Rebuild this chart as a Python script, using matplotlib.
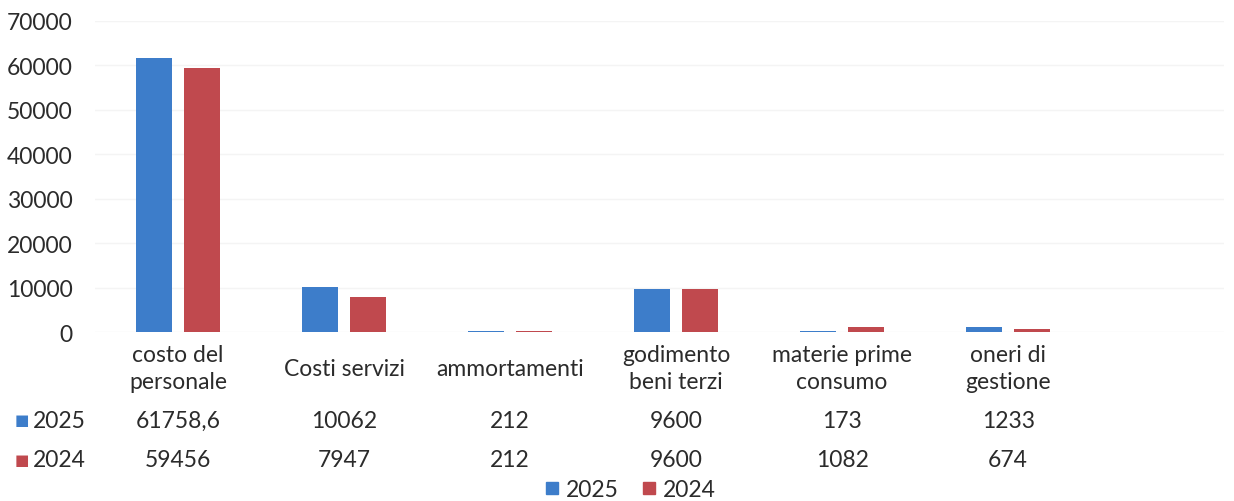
import matplotlib
matplotlib.use("Agg")
import matplotlib.pyplot as plt
import matplotlib.transforms as mtransforms
from matplotlib.lines import Line2D
import numpy as np

# data
categories = ["costo del\npersonale", "Costi servizi", "ammortamenti",
              "godimento\nbeni terzi", "materie prime\nconsumo", "oneri di\ngestione"]
val_2025 = [61758.6, 10062, 212, 9600, 173, 1233]
val_2024 = [59456, 7947, 212, 9600, 1082, 674]
labels_2025 = ["61758,6", "10062", "212", "9600", "173", "1233"]
labels_2024 = ["59456", "7947", "212", "9600", "1082", "674"]
yticks = [0, 10000, 20000, 30000, 40000, 50000, 60000, 70000]

blue = "#3D7DCA"
red = "#C0494E"
txt = "#2b2b2b"
fs = 16.5

plt.rcParams["font.family"] = ["Lato", "DejaVu Sans"]

fig = plt.figure(figsize=(12.34, 5.02), dpi=100)
W, H = 1234, 502
ax = fig.add_axes([95 / W, (H - 333) / H, 1129 / W, 311 / H])

x = np.arange(len(categories))
bw = 0.22
ax.bar(x - 0.145, val_2025, width=bw, color=blue, label="2025")
ax.bar(x + 0.145, val_2024, width=bw, color=red, label="2024")

ax.set_xlim(-0.5, 6.3)
ax.set_ylim(0, 70000)
ax.set_yticks(yticks)
ax.set_yticklabels([str(t) for t in yticks], fontsize=fs, color=txt)
ax.set_xticks(x)
ax.set_xticklabels(categories, fontsize=fs, color=txt, linespacing=1.35, va="center")
ax.tick_params(axis="x", length=0, pad=26)
ax.tick_params(axis="y", length=0, pad=16)
for s in ax.spines.values():
    s.set_visible(False)
ax.grid(axis="y", color="#f4f4f4", linewidth=1)
ax.set_axisbelow(True)

# data table rows
trans = mtransforms.blended_transform_factory(ax.transData, fig.transFigure)
for lab, yrow in [(labels_2025, 1 - 421 / H), (labels_2024, 1 - 461 / H)]:
    for xi, s in zip(x, lab):
        ax.text(xi, yrow, s, transform=trans, ha="center", va="center",
                fontsize=fs, color=txt)

for yr, col, yrow in [("2025", blue, 1 - 421 / H), ("2024", red, 1 - 461 / H)]:
    fig.text(22 / W, yrow, "\u25A0", color=col, fontsize=11, ha="center", va="center")
    fig.text(33 / W, yrow, yr, color=txt, fontsize=fs, ha="left", va="center")

handles = [Line2D([], [], marker="s", linestyle="none", color=blue, markersize=9),
           Line2D([], [], marker="s", linestyle="none", color=red, markersize=9)]
fig.legend(handles, ["2025", "2024"], loc="center", bbox_to_anchor=(628 / W, 1 - 491 / H),
           ncol=2, frameon=False, fontsize=fs, handletextpad=0.1, columnspacing=0.8,
           handlelength=1.0, labelcolor=txt)

fig.savefig("out.png", dpi=100, facecolor="white")
